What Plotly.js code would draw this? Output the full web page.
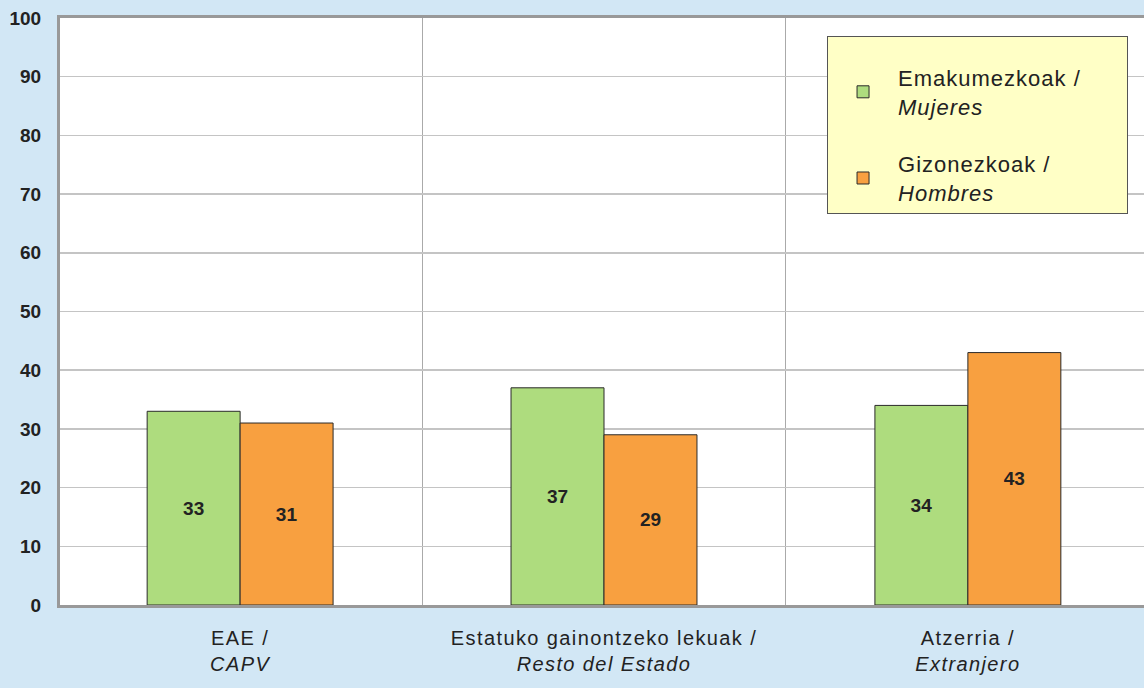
<!DOCTYPE html>
<html>
<head>
<meta charset="utf-8">
<script src="https://cdn.plot.ly/plotly-3.0.1.min.js"></script>
<style>
html,body{margin:0;padding:0;background:#D2E7F5;}
#chart{width:1144px;height:688px;}
#chart .xtick text{letter-spacing:1.4px;}
#chart .legendtext{letter-spacing:1px;}
</style>
</head>
<body>
<div id="chart"></div>
<script>
var categories = ["EAE /<br><i>CAPV</i>", "Estatuko gainontzeko lekuak /<br><i>Resto del Estado</i>", "Atzerria /<br><i>Extranjero</i>"];
var mujeres = [33, 37, 34];
var hombres = [31, 29, 43];
var seriesNames = ["Emakumezkoak /&nbsp;&nbsp;&nbsp;&nbsp;&nbsp;&nbsp;&nbsp;&nbsp;&nbsp;<br><i>Mujeres</i>", "Gizonezkoak /<br><i>Hombres</i>"];
var yTicks = [0, 10, 20, 30, 40, 50, 60, 70, 80, 90, 100];

var textFont = {family: "Liberation Sans, Arial, sans-serif", size: 19, color: "#222222", weight: "bold"};
var traces = [
  {type: "bar", x: categories, y: mujeres, name: seriesNames[0], legendgroup: "a",
   marker: {color: "#AEDC7E", line: {color: "#2a2a2a", width: 1}},
   text: mujeres.map(String), textposition: "inside", insidetextanchor: "middle",
   textfont: textFont, hoverinfo: "y"},
  {type: "bar", x: categories, y: hombres, name: seriesNames[1], legendgroup: "b",
   marker: {color: "#F8A040", line: {color: "#2a2a2a", width: 1}},
   text: hombres.map(String), textposition: "inside", insidetextanchor: "middle",
   textfont: textFont, hoverinfo: "y"}
];

var layout = {
  width: 1144, height: 688,
  margin: {l: 60, r: 0, t: 18, b: 83},
  paper_bgcolor: "#D2E7F5",
  plot_bgcolor: "#FFFFFF",
  font: {family: "Liberation Sans, Arial, sans-serif", color: "#222222"},
  barmode: "group",
  bargap: 0.489,
  bargroupgap: 0,
  showlegend: true,
  legend: {
    x: 0.7076, y: 0.969, xanchor: "left", yanchor: "top",
    bgcolor: "#FFFFC6", bordercolor: "#555555", borderwidth: 1,
    font: {size: 22, color: "#222222"},
    title: {text: "&nbsp;", font: {size: 15}},
    traceorder: "grouped", tracegroupgap: 26,
    itemwidth: 60
  },
  xaxis: {
    type: "category",
    range: [-0.495, 2.484],
    showline: true, linecolor: "#999999", linewidth: 3, mirror: true,
    showgrid: true, gridcolor: "#AAAAAA", gridwidth: 1,
    tickson: "boundaries", ticks: "",
    tickfont: {size: 20, color: "#222222"},
    ticklabelstandoff: 13,
    fixedrange: true
  },
  yaxis: {
    range: [0, 100],
    tickvals: yTicks,
    ticktext: yTicks.map(String),
    showline: true, linecolor: "#999999", linewidth: 3,
    showgrid: true, gridcolor: "#C4C4C4", gridwidth: 1.5,
    zeroline: false,
    ticks: "",
    tickfont: {size: 19, color: "#222222", weight: "bold"},
    ticklabelstandoff: 12,
    fixedrange: true
  }
};

Plotly.newPlot("chart", traces, layout, {displayModeBar: false, staticPlot: true});
</script>
</body>
</html>
